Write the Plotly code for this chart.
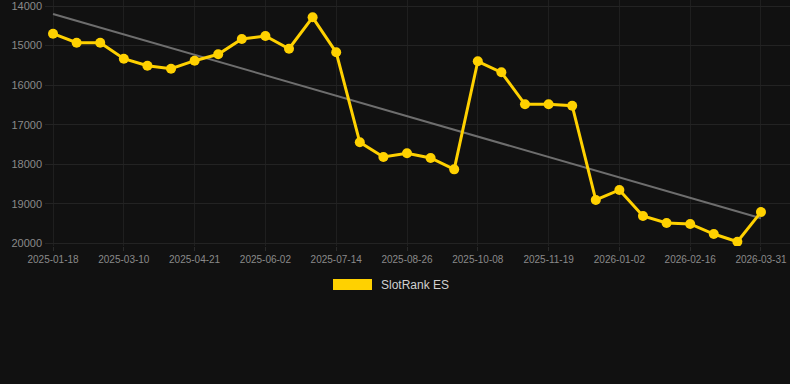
import plotly.graph_objects as go

dates = [
    "2025-01-18", "2025-02-04", "2025-02-21",
    "2025-03-10", "2025-03-24", "2025-04-07",
    "2025-04-21", "2025-05-05", "2025-05-19",
    "2025-06-02", "2025-06-16", "2025-06-30",
    "2025-07-14", "2025-07-28", "2025-08-11",
    "2025-08-26", "2025-09-09", "2025-09-23",
    "2025-10-08", "2025-10-22", "2025-11-05",
    "2025-11-19", "2025-12-03", "2025-12-17",
    "2026-01-02", "2026-01-17", "2026-02-01",
    "2026-02-16", "2026-03-02", "2026-03-16",
    "2026-03-31",
]
rank = [
    14700, 14928, 14928, 15332, 15509, 15585, 15383, 15221, 14834, 14759,
    15080, 14286, 15171, 17446, 17818, 17724, 17843, 18130, 15398, 15677,
    16486, 16486, 16520, 18905, 18652, 19310, 19487, 19510, 19765, 19960,
    19210,
]
trend_x = [dates[0], dates[-1]]
trend_y = [14202, 19368]
y_ticks = [14000, 15000, 16000, 17000, 18000, 19000, 20000]
x_ticks = dates[::3]
series_name = "SlotRank ES"

BG = "#111111"
GOLD = "#FFD100"

PLOT_TOP = 0.0
PLOT_BOTTOM = 246.0
PLOT_H = PLOT_BOTTOM - PLOT_TOP
PX_PER_1000 = 39.55

fig = go.Figure()
fig.add_trace(go.Scatter(
    x=trend_x, y=trend_y, mode="lines",
    line=dict(color="#6e6e6e", width=2), showlegend=False, hoverinfo="skip",
))
fig.add_trace(go.Scatter(
    x=dates, y=rank, mode="lines+markers", name=series_name,
    line=dict(color=GOLD, width=3),
    marker=dict(color=GOLD, size=10),
    showlegend=False,
))

y_top = 14000 - 6.0 / PX_PER_1000 * 1000
y_bot = 20000 + (PLOT_BOTTOM - 243.3) / PX_PER_1000 * 1000


def py(pix):
    return (PLOT_BOTTOM - pix) / PLOT_H


fig.update_layout(
    width=790, height=384,
    paper_bgcolor=BG, plot_bgcolor=BG,
    margin=dict(l=45, r=0, t=PLOT_TOP, b=384 - PLOT_BOTTOM, pad=0),
    font=dict(family="Liberation Sans, Arial, sans-serif", color="#8a8a8a"),
    xaxis=dict(
        type="category", categoryorder="array", categoryarray=dates,
        range=[-0.34, 31.23],
        tickvals=x_ticks, ticktext=x_ticks,
        showgrid=True, gridcolor="#1f1f1f", gridwidth=1,
        zeroline=False, showline=False,
        ticks="outside", ticklen=4, tickcolor="#2a2a2a",
        tickfont=dict(size=10, color="#8a8a8a"),
        ticklabeloverflow="allow",
    ),
    yaxis=dict(
        range=[y_bot, y_top],
        tickvals=y_ticks, ticktext=[str(v) for v in y_ticks],
        showgrid=True, gridcolor="#232323", gridwidth=1,
        zeroline=False, showline=False,
        ticks="", ticklabelstandoff=2,
        tickfont=dict(size=11, color="#8a8a8a"),
        ticklabeloverflow="allow",
    ),
    shapes=[dict(
        type="rect", xref="paper", yref="paper",
        x0=(333 - 45) / 745, x1=(372 - 45) / 745,
        y0=py(290), y1=py(279),
        fillcolor=GOLD, line=dict(width=0),
    )],
    annotations=[dict(
        text=series_name, xref="paper", yref="paper",
        x=(379 - 45) / 745, y=py(284.5),
        xanchor="left", yanchor="middle", showarrow=False,
        font=dict(size=12, color="#d0d0d0"),
    )],
)

fig.write_html(
    "out.html",
    config={"displayModeBar": False},
    post_script="document.body.style.margin='0';document.body.style.background='#111111';",
)
